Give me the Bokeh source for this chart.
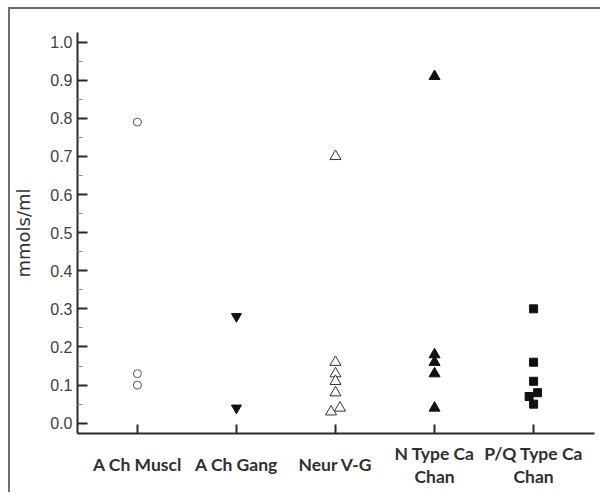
from bokeh.plotting import figure
from bokeh.models import FixedTicker, Range1d, PrintfTickFormatter
from bokeh.embed import file_html
from bokeh.resources import INLINE

categories = ["A Ch Muscl", "A Ch Gang", "Neur V-G", "N Type Ca\nChan", "P/Q Type Ca\nChan"]
cat_pos = [1, 2, 3, 4, 5]

muscl_y = [0.79, 0.13, 0.10]
gang_y = [0.28, 0.04]
neur_y = [0.70, 0.16, 0.13, 0.11, 0.08, 0.04, 0.03]
neur_jit = [0, 0, 0, 0, 0, 0.045, -0.045]
ntype_y = [0.91, 0.18, 0.16, 0.13, 0.04]
pq_y = [0.30, 0.16, 0.11, 0.08, 0.07, 0.05]
pq_jit = [0, 0, 0, 0.04, -0.045, 0]

y_ticks = [round(i * 0.1, 1) for i in range(11)]
y_minor = [round(0.05 + i * 0.1, 2) for i in range(10)]


def tick_text(label):
    # half-height line spacing: single lines are pushed down half a line,
    # two-line labels keep a full line between them
    parts = label.split("\n")
    if len(parts) == 1:
        return "\n" + parts[0]
    return "\n\n".join(parts)


p = figure(width=592, height=485, output_backend="svg", toolbar_location=None,
           x_range=Range1d(0.395, 5.615), y_range=Range1d(-0.027, 1.025),
           min_border_left=66, min_border_top=23, min_border_right=8, min_border_bottom=61)
p.styles = {"margin-left": "8px", "margin-top": "7px",
            "border-top": "2px solid #6e6e6e", "border-left": "2px solid #6e6e6e"}
p.grid.visible = False
p.outline_line_color = None

# data
p.scatter([cat_pos[0]] * len(muscl_y), muscl_y, marker="circle", size=8,
          fill_color="white", line_color="#555555", line_width=1)
p.scatter([cat_pos[1]] * len(gang_y), gang_y, marker="inverted_triangle", size=10,
          fill_color="#111111", line_color="#111111")
p.scatter([cat_pos[2] + j for j in neur_jit], neur_y, marker="triangle", size=11,
          fill_color="white", line_color="#333333", line_width=1)
p.scatter([cat_pos[3]] * len(ntype_y), ntype_y, marker="triangle", size=11,
          fill_color="#111111", line_color="#111111")
p.scatter([cat_pos[4] + j for j in pq_jit], pq_y, marker="square", size=8,
          fill_color="#111111", line_color="#111111")

# x axis
xa = p.xaxis[0]
xa.ticker = FixedTicker(ticks=cat_pos, minor_ticks=[])
xa.major_label_overrides = {c: tick_text(l) for c, l in zip(cat_pos, categories)}
xa.axis_line_width = 2
xa.axis_line_color = "#2a2a2a"
xa.major_tick_in = 9
xa.major_tick_out = 0
xa.major_tick_line_width = 2
xa.major_tick_line_color = "#2a2a2a"
xa.major_label_standoff = 9
xa.major_label_text_font = "Lato"
xa.major_label_text_font_style = "bold"
xa.major_label_text_font_size = "17.5px"
xa.major_label_text_color = "#303030"
xa.major_label_text_line_height = 0.55

# y axis
ya = p.yaxis[0]
ya.ticker = FixedTicker(ticks=y_ticks, minor_ticks=y_minor)
ya.formatter = PrintfTickFormatter(format="%.1f")
ya.axis_line_width = 2
ya.axis_line_color = "#2a2a2a"
ya.major_tick_in = 10
ya.major_tick_out = 0
ya.major_tick_line_width = 2
ya.major_tick_line_color = "#2a2a2a"
ya.minor_tick_in = 5
ya.minor_tick_out = 0
ya.minor_tick_line_color = "#888888"
ya.minor_tick_line_width = 1
ya.major_label_standoff = 5
ya.major_label_text_font = "Liberation Sans"
ya.major_label_text_font_size = "16px"
ya.major_label_text_color = "#404040"
ya.axis_label = "mmols/ml"
ya.axis_label_text_font = "DejaVu Sans"
ya.axis_label_text_font_style = "normal"
ya.axis_label_text_font_size = "18px"
ya.axis_label_text_color = "#333333"
ya.axis_label_standoff = 13

open("out.html", "w").write(file_html(p, INLINE))
